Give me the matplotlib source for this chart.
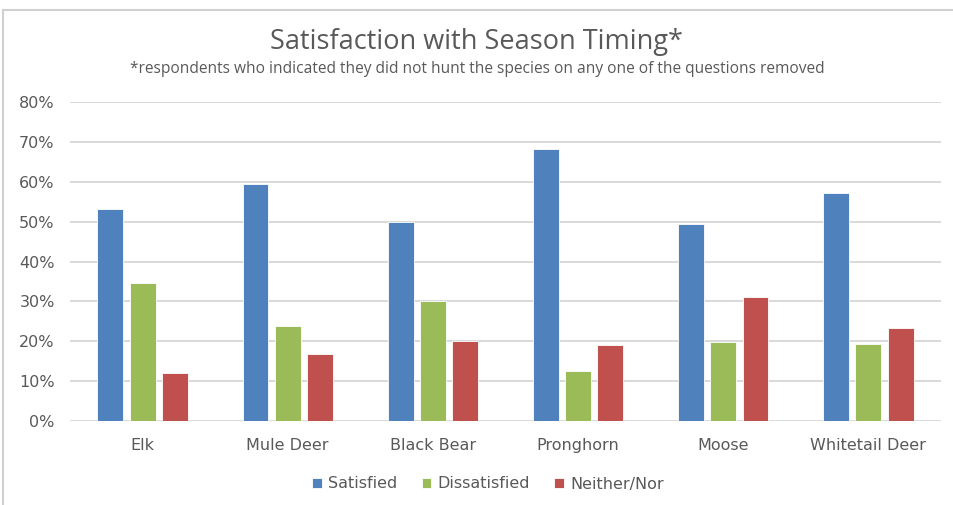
import matplotlib.pyplot as plt
import numpy as np
from matplotlib.patches import Rectangle
from matplotlib.ticker import PercentFormatter

# Season timing satisfaction by species (fraction of respondents)
species = ["Elk", "Mule Deer", "Black Bear", "Pronghorn", "Moose", "Whitetail Deer"]
satisfied = [53.2, 59.5, 50.0, 68.3, 49.4, 57.3]
dissatisfied = [34.6, 23.9, 30.0, 12.6, 19.8, 19.3]
neither = [12.0, 16.7, 20.1, 19.1, 31.0, 23.2]

series_names = ["Satisfied", "Dissatisfied", "Neither/Nor"]
colors = ["#4F81BD", "#9BBB59", "#C0504D"]
text_col = "#595959"

W, H = 954, 505
fig = plt.figure(figsize=(W / 100, H / 100), dpi=100)

# plot area in pixels: x 70..941, y 102..421
ax = fig.add_axes([70 / W, 1 - 421 / H, (941 - 70) / W, (421 - 102) / H])

x = np.arange(len(species))
width = 0.178
step = 0.222
for i, (vals, name, c) in enumerate(zip([satisfied, dissatisfied, neither], series_names, colors)):
    ax.bar(x + (i - 1) * step, vals, width, color=c, label=name,
           edgecolor="white", linewidth=0.6, zorder=3)

ax.set_xlim(-0.5, len(species) - 0.5)
ax.set_ylim(0, 80)
ax.set_yticks(np.arange(0, 81, 10))
ax.yaxis.set_major_formatter(PercentFormatter(decimals=0))
ax.grid(axis="y", color="#D9D9D9", linewidth=1.4, zorder=0)
ax.set_xticks(x)
ax.set_xticklabels(species)
for s in ax.spines.values():
    s.set_visible(False)
ax.tick_params(length=0, labelsize=11.5, labelcolor=text_col)
ax.tick_params(axis="y", pad=11)
ax.tick_params(axis="x", pad=12)

fig.text(0.5, 1 - 42 / H, "Satisfaction with Season Timing*", ha="center", va="center",
         fontsize=19.5, color=text_col, family="Open Sans")
fig.text(0.5, 1 - 69 / H,
         "*respondents who indicated they did not hunt the species on any one of the questions removed",
         ha="center", va="center", fontsize=11.2, color=text_col, family="Open Sans")

leg = fig.legend(loc="center", bbox_to_anchor=(488 / W, 1 - 484 / H), ncol=3, frameon=False,
                 fontsize=11.5, handlelength=0.6, handleheight=0.6, handletextpad=0.4,
                 columnspacing=1.5)
for t in leg.get_texts():
    t.set_color(text_col)

# chart frame (cropped screenshot border)
fig.patches.append(Rectangle((3 / W, -0.05), 1.2, 1 - 10 / H + 0.05, transform=fig.transFigure,
                             fill=False, edgecolor="#D0D0D0", linewidth=1.5))

fig.savefig("out.png", dpi=100)
